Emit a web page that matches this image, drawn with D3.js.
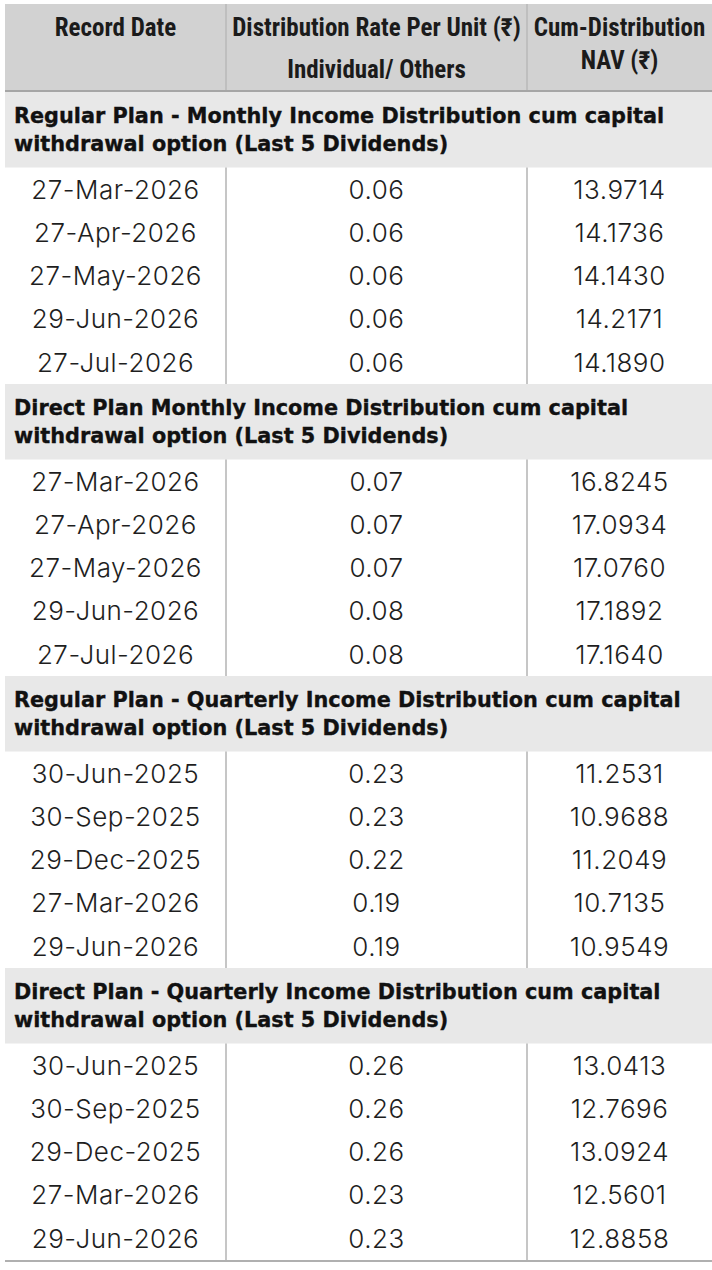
<!DOCTYPE html>
<html><head><meta charset="utf-8">
<script src="https://cdn.jsdelivr.net/npm/d3@7"></script>
<style>
html,body{margin:0;padding:0;background:#fff;}
svg{display:block;}
.head{font-family:Roboto,"Open Sans",sans-serif;font-stretch:condensed;font-weight:700;}
.plan{font-family:"DejaVu Sans",sans-serif;font-weight:700;}
.cell{font-family:Inter,Roboto,sans-serif;font-weight:300;letter-spacing:0.5px;}
</style></head><body><svg id="chart"></svg>
<script>
// table contents
const headers = [
  ["Record Date"],
  ["Distribution Rate Per Unit  (₹)", "Individual/ Others"],
  ["Cum-Distribution", "NAV (₹)"]
];
const planTitles = [
  ["Regular Plan - Monthly Income Distribution cum capital", "withdrawal option (Last 5 Dividends)"],
  ["Direct Plan Monthly Income Distribution cum capital", "withdrawal option (Last 5 Dividends)"],
  ["Regular Plan - Quarterly Income Distribution cum capital", "withdrawal option (Last 5 Dividends)"],
  ["Direct Plan - Quarterly Income Distribution cum capital", "withdrawal option (Last 5 Dividends)"]
];
const recordDates = [
  ["27-Mar-2026", "27-Apr-2026", "27-May-2026", "29-Jun-2026", "27-Jul-2026"],
  ["27-Mar-2026", "27-Apr-2026", "27-May-2026", "29-Jun-2026", "27-Jul-2026"],
  ["30-Jun-2025", "30-Sep-2025", "29-Dec-2025", "27-Mar-2026", "29-Jun-2026"],
  ["30-Jun-2025", "30-Sep-2025", "29-Dec-2025", "27-Mar-2026", "29-Jun-2026"]
];
const distributionRates = [
  [0.06, 0.06, 0.06, 0.06, 0.06],
  [0.07, 0.07, 0.07, 0.08, 0.08],
  [0.23, 0.23, 0.22, 0.19, 0.19],
  [0.26, 0.26, 0.26, 0.23, 0.23]
];
const cumNav = [
  [13.9714, 14.1736, 14.1430, 14.2171, 14.1890],
  [16.8245, 17.0934, 17.0760, 17.1892, 17.1640],
  [11.2531, 10.9688, 11.2049, 10.7135, 10.9549],
  [13.0413, 12.7696, 13.0924, 12.5601, 12.8858]
];

const W = 712, H = 1270;
const fmtRate = d3.format(".2f"), fmtNav = d3.format(".4f");

const svg = d3.select("#chart").attr("width", W).attr("height", H);

// column edges
const edges = [5, 226, 527, 712];
const colMid = i => (edges[i] + edges[i + 1]) / 2;

const headTop = 4, headH = 86, groupH = 75.5, rowH = 43.3;
const tableTop = headTop + headH + 2;

// build rows list from data
const blocks = planTitles.map((t, g) => ({
  title: t,
  rows: recordDates[g].map((d, i) => [d, fmtRate(distributionRates[g][i]), fmtNav(cumNav[g][i])])
}));
let yy = tableTop;
blocks.forEach(b => {
  b.top = yy;
  b.rowsTop = yy + groupH;
  yy = b.rowsTop + rowH * b.rows.length;
  b.bottom = yy;
});
const tableBottom = yy;

// header
svg.append("rect").attr("x", edges[0]).attr("y", headTop)
  .attr("width", W - edges[0]).attr("height", headH).attr("fill", "#d2d2d2");
svg.append("rect").attr("x", edges[0]).attr("y", headTop + headH)
  .attr("width", W - edges[0]).attr("height", 2).attr("fill", "#a6a6a6");

svg.selectAll("line.hdiv").data([1, 2]).join("line")
  .attr("class", "hdiv")
  .attr("x1", i => edges[i]).attr("x2", i => edges[i])
  .attr("y1", headTop).attr("y2", headTop + headH)
  .attr("stroke", "#b9b9b9").attr("stroke-width", 1.5);

const lineBase = [[36], [36, 78], [36, 69]];
const head = svg.selectAll("text.head").data(headers).join("text")
  .attr("class", "head")
  .attr("text-anchor", "middle")
  .attr("font-size", 25)
  .attr("fill", "#1b1b1b");
head.selectAll("tspan").data((d, i) => d.map((s, k) => ({s, i, k}))).join("tspan")
  .attr("x", d => colMid(d.i))
  .attr("y", d => lineBase[d.i][d.k])
  .text(d => d.s);

// plan blocks
const blk = svg.selectAll("g.block").data(blocks).join("g").attr("class", "block");

blk.append("rect")
  .attr("x", edges[0]).attr("y", d => d.top)
  .attr("width", W - edges[0]).attr("height", groupH)
  .attr("fill", "#e8e8e8");

blk.append("text")
  .attr("class", "plan")
  .attr("font-size", 20.8).attr("fill", "#111")
  .attr("stroke", "#111").attr("stroke-width", 0.35)
  .selectAll("tspan").data(d => d.title.map((s, k) => ({s, k, top: d.top}))).join("tspan")
  .attr("x", 14)
  .attr("y", d => d.top + 31 + d.k * 27.5)
  .text(d => d.s);

blk.selectAll("line.vdiv").data(d => [1, 2].map(i => ({i, d}))).join("line")
  .attr("class", "vdiv")
  .attr("x1", o => edges[o.i]).attr("x2", o => edges[o.i])
  .attr("y1", o => o.d.rowsTop).attr("y2", o => o.d.bottom)
  .attr("stroke", "#b3b3b3").attr("stroke-width", 1.5);

blk.selectAll("g.row").data(d => d.rows.map((r, i) => ({r, y: d.rowsTop + i * rowH}))).join("g")
  .attr("class", "row")
  .selectAll("text").data(d => d.r.map((v, c) => ({v, c, y: d.y}))).join("text")
  .attr("class", "cell")
  .attr("x", d => colMid(d.c))
  .attr("y", d => d.y + rowH / 2)
  .attr("dy", "0.36em")
  .attr("text-anchor", "middle")
  .attr("font-size", 26)
  .attr("fill", "#1e1e1e")
  .text(d => d.v);

// bottom rule
svg.append("rect").attr("x", edges[0]).attr("y", tableBottom)
  .attr("width", W - edges[0]).attr("height", 2).attr("fill", "#b0b0b0");
</script></body></html>
